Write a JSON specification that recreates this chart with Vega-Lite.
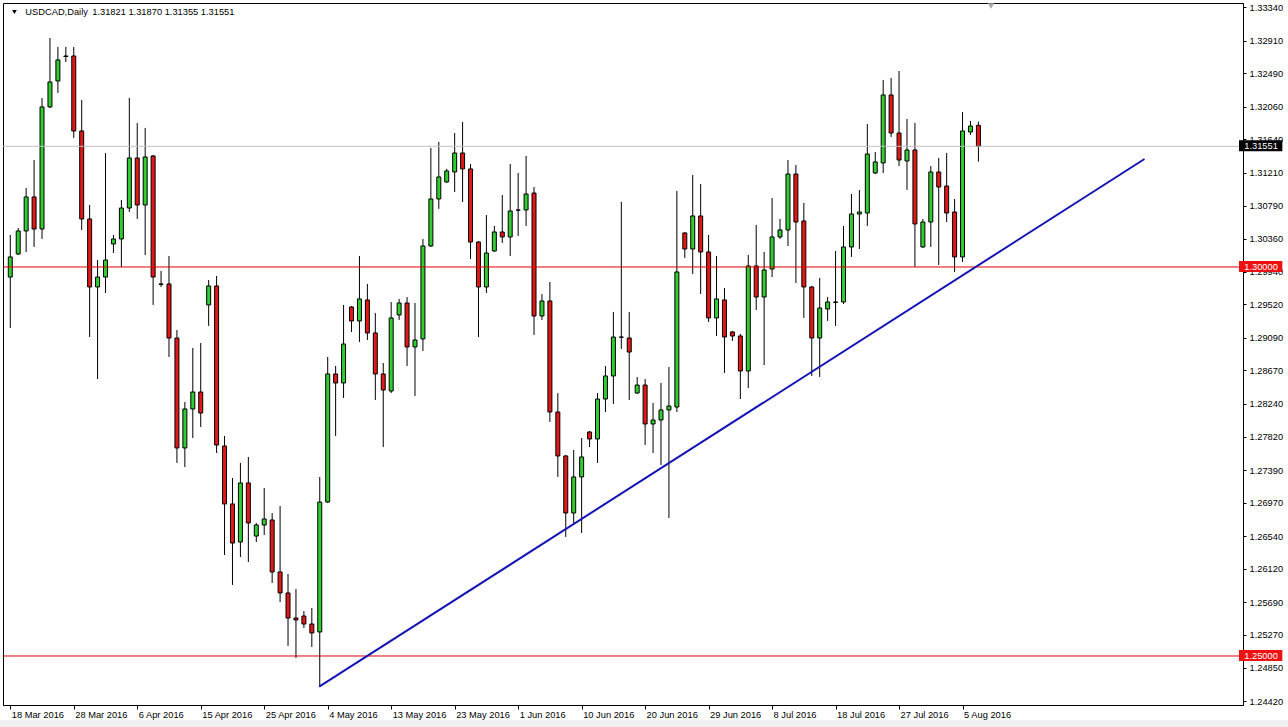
{
  "$schema": "https://vega.github.io/schema/vega-lite/v6.json",
  "width": 1240,
  "height": 702,
  "autosize": {"type": "none"},
  "padding": {"left": 3, "top": 3, "right": 45, "bottom": 22},
  "background": "white",
  "config": {
    "view": {"stroke": "#000000", "strokeWidth": 1},
    "font": "Liberation Sans",
    "axis": {"title": null, "grid": false, "labelFont": "Liberation Sans", "labelFontSize": 9.3, "labelColor": "#000000", "domainColor": "#000000", "tickColor": "#000000", "labelOverlap": false, "labelBound": false, "labelFlush": false}
  },
  "datasets": {
    "candles": [
      {"date": "2016-03-18", "open": 1.29871, "high": 1.30411, "low": 1.29216, "close": 1.30129},
      {"date": "2016-03-20", "open": 1.30167, "high": 1.30501, "low": 1.30154, "close": 1.30463},
      {"date": "2016-03-21", "open": 1.30463, "high": 1.31015, "low": 1.30193, "close": 1.30900},
      {"date": "2016-03-22", "open": 1.30900, "high": 1.31375, "low": 1.30257, "close": 1.30488},
      {"date": "2016-03-23", "open": 1.30488, "high": 1.32172, "low": 1.30360, "close": 1.32057},
      {"date": "2016-03-24", "open": 1.32057, "high": 1.32943, "low": 1.32044, "close": 1.32378},
      {"date": "2016-03-25", "open": 1.32391, "high": 1.32828, "low": 1.32237, "close": 1.32661},
      {"date": "2016-03-27", "open": 1.32712, "high": 1.32828, "low": 1.32635, "close": 1.32705},
      {"date": "2016-03-28", "open": 1.32712, "high": 1.32828, "low": 1.31658, "close": 1.31748},
      {"date": "2016-03-29", "open": 1.31748, "high": 1.32147, "low": 1.30476, "close": 1.30617},
      {"date": "2016-03-30", "open": 1.30617, "high": 1.30797, "low": 1.29100, "close": 1.29743},
      {"date": "2016-03-31", "open": 1.29743, "high": 1.30090, "low": 1.28560, "close": 1.29871},
      {"date": "2016-04-01", "open": 1.29871, "high": 1.31465, "low": 1.29666, "close": 1.30090},
      {"date": "2016-04-03", "open": 1.30296, "high": 1.30411, "low": 1.30180, "close": 1.30360},
      {"date": "2016-04-04", "open": 1.30360, "high": 1.30861, "low": 1.30000, "close": 1.30758},
      {"date": "2016-04-05", "open": 1.30758, "high": 1.32172, "low": 1.30707, "close": 1.31401},
      {"date": "2016-04-06", "open": 1.31401, "high": 1.31851, "low": 1.30617, "close": 1.30797},
      {"date": "2016-04-07", "open": 1.30797, "high": 1.31787, "low": 1.30154, "close": 1.31414},
      {"date": "2016-04-08", "open": 1.31427, "high": 1.31440, "low": 1.29512, "close": 1.29871},
      {"date": "2016-04-10", "open": 1.29782, "high": 1.29949, "low": 1.29743, "close": 1.29776},
      {"date": "2016-04-11", "open": 1.29782, "high": 1.30141, "low": 1.28843, "close": 1.29087},
      {"date": "2016-04-12", "open": 1.29087, "high": 1.29190, "low": 1.27481, "close": 1.27674},
      {"date": "2016-04-13", "open": 1.27674, "high": 1.28265, "low": 1.27429, "close": 1.28175},
      {"date": "2016-04-14", "open": 1.28175, "high": 1.28959, "low": 1.27802, "close": 1.28393},
      {"date": "2016-04-15", "open": 1.28393, "high": 1.29023, "low": 1.27943, "close": 1.28123},
      {"date": "2016-04-17", "open": 1.29512, "high": 1.29833, "low": 1.29242, "close": 1.29756},
      {"date": "2016-04-18", "open": 1.29756, "high": 1.29884, "low": 1.27609, "close": 1.27712},
      {"date": "2016-04-19", "open": 1.27699, "high": 1.27828, "low": 1.26298, "close": 1.26954},
      {"date": "2016-04-20", "open": 1.26954, "high": 1.27288, "low": 1.25913, "close": 1.26452},
      {"date": "2016-04-21", "open": 1.26465, "high": 1.27481, "low": 1.26272, "close": 1.27224},
      {"date": "2016-04-22", "open": 1.27224, "high": 1.27558, "low": 1.26208, "close": 1.26710},
      {"date": "2016-04-24", "open": 1.26542, "high": 1.26710, "low": 1.26465, "close": 1.26684},
      {"date": "2016-04-25", "open": 1.26684, "high": 1.27159, "low": 1.26555, "close": 1.26761},
      {"date": "2016-04-26", "open": 1.26748, "high": 1.26838, "low": 1.25938, "close": 1.26080},
      {"date": "2016-04-27", "open": 1.26080, "high": 1.26928, "low": 1.25694, "close": 1.25810},
      {"date": "2016-04-28", "open": 1.25810, "high": 1.26054, "low": 1.25129, "close": 1.25488},
      {"date": "2016-04-29", "open": 1.25488, "high": 1.25861, "low": 1.24974, "close": 1.25463},
      {"date": "2016-05-01", "open": 1.25514, "high": 1.25578, "low": 1.25360, "close": 1.25411},
      {"date": "2016-05-02", "open": 1.25411, "high": 1.25617, "low": 1.25116, "close": 1.25296},
      {"date": "2016-05-03", "open": 1.25309, "high": 1.27301, "low": 1.24602, "close": 1.26979},
      {"date": "2016-05-04", "open": 1.26979, "high": 1.28843, "low": 1.26967, "close": 1.28625},
      {"date": "2016-05-05", "open": 1.28625, "high": 1.28728, "low": 1.27828, "close": 1.28509},
      {"date": "2016-05-06", "open": 1.28509, "high": 1.29512, "low": 1.28316, "close": 1.29010},
      {"date": "2016-05-08", "open": 1.29486, "high": 1.29499, "low": 1.29165, "close": 1.29306},
      {"date": "2016-05-09", "open": 1.29306, "high": 1.30141, "low": 1.29036, "close": 1.29589},
      {"date": "2016-05-10", "open": 1.29576, "high": 1.29782, "low": 1.29062, "close": 1.29152},
      {"date": "2016-05-11", "open": 1.29152, "high": 1.29409, "low": 1.28290, "close": 1.28625},
      {"date": "2016-05-12", "open": 1.28625, "high": 1.28766, "low": 1.27686, "close": 1.28419},
      {"date": "2016-05-13", "open": 1.28406, "high": 1.29550, "low": 1.28380, "close": 1.29345},
      {"date": "2016-05-15", "open": 1.29383, "high": 1.29589, "low": 1.29319, "close": 1.29537},
      {"date": "2016-05-16", "open": 1.29537, "high": 1.29614, "low": 1.28728, "close": 1.28972},
      {"date": "2016-05-17", "open": 1.28972, "high": 1.29537, "low": 1.28342, "close": 1.29062},
      {"date": "2016-05-18", "open": 1.29075, "high": 1.30360, "low": 1.28920, "close": 1.30270},
      {"date": "2016-05-19", "open": 1.30270, "high": 1.31530, "low": 1.30257, "close": 1.30874},
      {"date": "2016-05-20", "open": 1.30874, "high": 1.31607, "low": 1.30746, "close": 1.31157},
      {"date": "2016-05-22", "open": 1.31093, "high": 1.31260, "low": 1.31080, "close": 1.31234},
      {"date": "2016-05-23", "open": 1.31221, "high": 1.31722, "low": 1.30964, "close": 1.31465},
      {"date": "2016-05-24", "open": 1.31465, "high": 1.31864, "low": 1.30835, "close": 1.31260},
      {"date": "2016-05-25", "open": 1.31260, "high": 1.31324, "low": 1.30103, "close": 1.30321},
      {"date": "2016-05-26", "open": 1.30321, "high": 1.30334, "low": 1.29100, "close": 1.29743},
      {"date": "2016-05-27", "open": 1.29743, "high": 1.30668, "low": 1.29666, "close": 1.30180},
      {"date": "2016-05-29", "open": 1.30206, "high": 1.30527, "low": 1.30193, "close": 1.30450},
      {"date": "2016-05-30", "open": 1.30450, "high": 1.30925, "low": 1.30309, "close": 1.30386},
      {"date": "2016-05-31", "open": 1.30386, "high": 1.31324, "low": 1.30141, "close": 1.30720},
      {"date": "2016-06-01", "open": 1.30733, "high": 1.31208, "low": 1.30399, "close": 1.30730},
      {"date": "2016-06-02", "open": 1.30733, "high": 1.31427, "low": 1.30527, "close": 1.30938},
      {"date": "2016-06-03", "open": 1.30951, "high": 1.31028, "low": 1.29126, "close": 1.29370},
      {"date": "2016-06-05", "open": 1.29370, "high": 1.29653, "low": 1.29319, "close": 1.29563},
      {"date": "2016-06-06", "open": 1.29563, "high": 1.29807, "low": 1.28008, "close": 1.28136},
      {"date": "2016-06-07", "open": 1.28136, "high": 1.28380, "low": 1.27301, "close": 1.27571},
      {"date": "2016-06-08", "open": 1.27571, "high": 1.27584, "low": 1.26530, "close": 1.26838},
      {"date": "2016-06-09", "open": 1.26838, "high": 1.27648, "low": 1.26710, "close": 1.27301},
      {"date": "2016-06-10", "open": 1.27301, "high": 1.27802, "low": 1.26581, "close": 1.27558},
      {"date": "2016-06-12", "open": 1.27879, "high": 1.27892, "low": 1.27686, "close": 1.27789},
      {"date": "2016-06-13", "open": 1.27789, "high": 1.28380, "low": 1.27481, "close": 1.28303},
      {"date": "2016-06-14", "open": 1.28303, "high": 1.28728, "low": 1.28136, "close": 1.28599},
      {"date": "2016-06-15", "open": 1.28599, "high": 1.29422, "low": 1.28239, "close": 1.29100},
      {"date": "2016-06-16", "open": 1.29100, "high": 1.30835, "low": 1.28946, "close": 1.29097},
      {"date": "2016-06-17", "open": 1.29087, "high": 1.29422, "low": 1.28290, "close": 1.28907},
      {"date": "2016-06-19", "open": 1.28380, "high": 1.28586, "low": 1.28368, "close": 1.28483},
      {"date": "2016-06-20", "open": 1.28483, "high": 1.28560, "low": 1.27712, "close": 1.27982},
      {"date": "2016-06-21", "open": 1.27982, "high": 1.28252, "low": 1.27609, "close": 1.28033},
      {"date": "2016-06-22", "open": 1.28033, "high": 1.28509, "low": 1.27455, "close": 1.28162},
      {"date": "2016-06-23", "open": 1.28162, "high": 1.28715, "low": 1.26774, "close": 1.28213},
      {"date": "2016-06-24", "open": 1.28200, "high": 1.30977, "low": 1.28136, "close": 1.29936},
      {"date": "2016-06-26", "open": 1.30437, "high": 1.30450, "low": 1.30116, "close": 1.30231},
      {"date": "2016-06-27", "open": 1.30231, "high": 1.31183, "low": 1.29910, "close": 1.30656},
      {"date": "2016-06-28", "open": 1.30656, "high": 1.31067, "low": 1.29653, "close": 1.30193},
      {"date": "2016-06-29", "open": 1.30193, "high": 1.30411, "low": 1.29293, "close": 1.29345},
      {"date": "2016-06-30", "open": 1.29345, "high": 1.30141, "low": 1.29113, "close": 1.29589},
      {"date": "2016-07-01", "open": 1.29576, "high": 1.29730, "low": 1.28638, "close": 1.29100},
      {"date": "2016-07-03", "open": 1.29165, "high": 1.29177, "low": 1.29049, "close": 1.29113},
      {"date": "2016-07-04", "open": 1.29113, "high": 1.29139, "low": 1.28303, "close": 1.28663},
      {"date": "2016-07-05", "open": 1.28663, "high": 1.30154, "low": 1.28445, "close": 1.30013},
      {"date": "2016-07-06", "open": 1.30013, "high": 1.30540, "low": 1.29447, "close": 1.29614},
      {"date": "2016-07-07", "open": 1.29614, "high": 1.30193, "low": 1.28740, "close": 1.29961},
      {"date": "2016-07-08", "open": 1.29974, "high": 1.30887, "low": 1.29871, "close": 1.30386},
      {"date": "2016-07-10", "open": 1.30386, "high": 1.30617, "low": 1.30360, "close": 1.30476},
      {"date": "2016-07-11", "open": 1.30476, "high": 1.31375, "low": 1.30270, "close": 1.31195},
      {"date": "2016-07-12", "open": 1.31195, "high": 1.31311, "low": 1.29794, "close": 1.30578},
      {"date": "2016-07-13", "open": 1.30591, "high": 1.30823, "low": 1.29345, "close": 1.29743},
      {"date": "2016-07-14", "open": 1.29743, "high": 1.29756, "low": 1.28599, "close": 1.29087},
      {"date": "2016-07-15", "open": 1.29087, "high": 1.29859, "low": 1.28586, "close": 1.29473},
      {"date": "2016-07-17", "open": 1.29460, "high": 1.29614, "low": 1.29306, "close": 1.29550},
      {"date": "2016-07-18", "open": 1.29550, "high": 1.30206, "low": 1.29242, "close": 1.29545},
      {"date": "2016-07-19", "open": 1.29550, "high": 1.30527, "low": 1.29524, "close": 1.30257},
      {"date": "2016-07-20", "open": 1.30257, "high": 1.30938, "low": 1.30129, "close": 1.30681},
      {"date": "2016-07-21", "open": 1.30681, "high": 1.30990, "low": 1.30231, "close": 1.30707},
      {"date": "2016-07-22", "open": 1.30694, "high": 1.31838, "low": 1.30527, "close": 1.31452},
      {"date": "2016-07-24", "open": 1.31208, "high": 1.31478, "low": 1.31195, "close": 1.31350},
      {"date": "2016-07-25", "open": 1.31337, "high": 1.32404, "low": 1.31208, "close": 1.32211},
      {"date": "2016-07-26", "open": 1.32211, "high": 1.32429, "low": 1.31671, "close": 1.31722},
      {"date": "2016-07-27", "open": 1.31722, "high": 1.32519, "low": 1.31298, "close": 1.31375},
      {"date": "2016-07-28", "open": 1.31362, "high": 1.31902, "low": 1.30990, "close": 1.31504},
      {"date": "2016-07-29", "open": 1.31504, "high": 1.31851, "low": 1.30000, "close": 1.30553},
      {"date": "2016-07-31", "open": 1.30257, "high": 1.30617, "low": 1.30244, "close": 1.30578},
      {"date": "2016-08-01", "open": 1.30578, "high": 1.31298, "low": 1.30257, "close": 1.31221},
      {"date": "2016-08-02", "open": 1.31221, "high": 1.31401, "low": 1.30026, "close": 1.31028},
      {"date": "2016-08-03", "open": 1.31041, "high": 1.31465, "low": 1.30578, "close": 1.30694},
      {"date": "2016-08-04", "open": 1.30707, "high": 1.30874, "low": 1.29936, "close": 1.30129},
      {"date": "2016-08-05", "open": 1.30129, "high": 1.31992, "low": 1.30064, "close": 1.31748},
      {"date": "2016-08-07", "open": 1.31735, "high": 1.31877, "low": 1.31697, "close": 1.31812},
      {"date": "2016-08-08", "open": 1.31821, "high": 1.31870, "low": 1.31355, "close": 1.31551}
    ],
    "levels": [
      {"price": 1.31551, "label": "1.31551", "kind": "bid"},
      {"price": 1.30000, "label": "1.30000", "kind": "level"},
      {"price": 1.25000, "label": "1.25000", "kind": "level"}
    ],
    "trend": [
      {"n": 39.93, "price": 1.24605},
      {"n": 143.93, "price": 1.31388}
    ],
    "header": [
      {"symbol": "USDCAD,Daily", "quote": "1.31821 1.31870 1.31355 1.31551"}
    ]
  },
  "layer": [
    {
      "data": {"name": "candles"},
      "transform": [{"window": [{"op": "row_number", "as": "n"}]}],
      "mark": {"type": "rule", "color": "#000000", "strokeWidth": 1},
      "encoding": {
        "x": {
          "field": "n", "type": "quantitative", "title": null,
          "scale": {"domain": [0.7125, 155.7125], "nice": false, "zero": false},
          "axis": {
            "values": [1, 9, 17, 25, 33, 41, 49, 57, 65, 73, 81, 89, 97, 105, 113, 121],
            "tickCount": 40,
            "labelExpr": "['18 Mar 2016','28 Mar 2016','6 Apr 2016','15 Apr 2016','25 Apr 2016','4 May 2016','13 May 2016','23 May 2016','1 Jun 2016','10 Jun 2016','20 Jun 2016','29 Jun 2016','8 Jul 2016','18 Jul 2016','27 Jul 2016','5 Aug 2016'][round((datum.value-1)/8)]",
            "title": null, "grid": false, "domain": true, "domainColor": "#000000",
            "ticks": true, "tickColor": "#000000", "tickSize": 4,
            "labelAlign": "left", "labelBaseline": "top", "labelPadding": 1, "labelOffset": 1,
            "labelFontSize": 9.3, "labelFont": "Liberation Sans", "labelColor": "#000000",
            "labelOverlap": false, "labelFlush": false, "labelBound": false
          }
        },
        "y": {
          "field": "low", "type": "quantitative", "title": null,
          "scale": {"domain": [1.2437, 1.33393], "nice": false, "zero": false},
          "axis": {
            "orient": "right",
            "values": [1.3334, 1.3291, 1.3249, 1.3206, 1.3164, 1.3121, 1.3079, 1.3036, 1.2994, 1.2952, 1.2909, 1.2867, 1.2824, 1.2782, 1.2739, 1.2697, 1.2654, 1.2612, 1.2569, 1.2527, 1.2485, 1.2442],
            "tickCount": 40,
            "format": ".5f", "title": null, "grid": false, "domainColor": "#000000",
            "tickColor": "#000000", "tickSize": 3, "labelPadding": 3,
            "labelFontSize": 9.3, "labelFont": "Liberation Sans", "labelColor": "#000000",
            "labelBaseline": "middle", "labelOverlap": false, "labelBound": false, "labelFlush": false
          }
        },
        "y2": {"field": "high"}
      }
    },
    {
      "data": {"name": "candles"},
      "transform": [{"window": [{"op": "row_number", "as": "n"}]}],
      "mark": {"type": "bar", "width": 4, "stroke": "#000000", "strokeWidth": 1},
      "encoding": {
        "x": {"field": "n", "type": "quantitative", "title": null, "scale": {"domain": [0.7125, 155.7125], "nice": false, "zero": false}},
        "y": {"field": "open", "type": "quantitative", "title": null, "scale": {"domain": [1.2437, 1.33393], "nice": false, "zero": false}},
        "y2": {"field": "close"},
        "fill": {"condition": {"test": "datum.close >= datum.open", "value": "#30cc30"}, "value": "#e01818"}
      }
    },
    {
      "data": {"name": "levels"},
      "mark": {"type": "rule", "strokeWidth": 1},
      "encoding": {
        "y": {"field": "price", "type": "quantitative", "title": null, "scale": {"domain": [1.2437, 1.33393], "nice": false, "zero": false}},
        "color": {"condition": {"test": "datum.kind === 'bid'", "value": "#c0c0c0"}, "value": "#e00000"}
      }
    },
    {
      "data": {"name": "trend"},
      "mark": {"type": "line", "color": "#1414b4", "strokeWidth": 2},
      "encoding": {
        "x": {"field": "n", "type": "quantitative", "title": null, "scale": {"domain": [0.7125, 155.7125], "nice": false, "zero": false}},
        "y": {"field": "price", "type": "quantitative", "title": null, "scale": {"domain": [1.2437, 1.33393], "nice": false, "zero": false}}
      }
    },
    {
      "data": {"name": "levels"},
      "mark": {"type": "rect", "yOffset": -6, "y2Offset": 5, "clip": false},
      "encoding": {
        "x": {"datum": 155.84, "type": "quantitative", "title": null, "scale": {"domain": [0.7125, 155.7125], "nice": false, "zero": false}},
        "x2": {"datum": 161.3},
        "y": {"field": "price", "type": "quantitative", "title": null, "scale": {"domain": [1.2437, 1.33393], "nice": false, "zero": false}},
        "y2": {"field": "price"},
        "fill": {"condition": {"test": "datum.kind === 'bid'", "value": "#000000"}, "value": "#ee1111"}
      }
    },
    {
      "data": {"name": "levels"},
      "mark": {"type": "text", "align": "left", "baseline": "middle", "fontSize": 9.3, "font": "Liberation Sans", "color": "#ffffff", "clip": false},
      "encoding": {
        "x": {"datum": 156.5, "type": "quantitative", "title": null, "scale": {"domain": [0.7125, 155.7125], "nice": false, "zero": false}},
        "y": {"field": "price", "type": "quantitative", "title": null, "scale": {"domain": [1.2437, 1.33393], "nice": false, "zero": false}},
        "text": {"field": "label"}
      }
    },
    {
      "data": {"name": "header"},
      "mark": {"type": "point", "shape": "triangle-down", "filled": true, "size": 22, "color": "#000000", "opacity": 1},
      "encoding": {
        "x": {"datum": 1.525, "type": "quantitative", "title": null, "scale": {"domain": [0.7125, 155.7125], "nice": false, "zero": false}},
        "y": {"datum": 1.33278, "type": "quantitative", "title": null, "scale": {"domain": [1.2437, 1.33393], "nice": false, "zero": false}}
      }
    },
    {
      "data": {"name": "header"},
      "mark": {"type": "text", "align": "left", "baseline": "middle", "fontSize": 9.3, "font": "Liberation Sans", "color": "#000000"},
      "encoding": {
        "x": {"datum": 2.9, "type": "quantitative", "title": null, "scale": {"domain": [0.7125, 155.7125], "nice": false, "zero": false}},
        "y": {"datum": 1.33278, "type": "quantitative", "title": null, "scale": {"domain": [1.2437, 1.33393], "nice": false, "zero": false}},
        "text": {"field": "symbol"}
      }
    },
    {
      "data": {"name": "header"},
      "mark": {"type": "text", "align": "left", "baseline": "middle", "fontSize": 9.3, "font": "Liberation Sans", "color": "#000000"},
      "encoding": {
        "x": {"datum": 11.33, "type": "quantitative", "title": null, "scale": {"domain": [0.7125, 155.7125], "nice": false, "zero": false}},
        "y": {"datum": 1.33278, "type": "quantitative", "title": null, "scale": {"domain": [1.2437, 1.33393], "nice": false, "zero": false}},
        "text": {"field": "quote"}
      }
    },
    {
      "data": {"name": "header"},
      "mark": {"type": "point", "shape": "triangle-down", "filled": true, "size": 40, "color": "#a8a8a8", "opacity": 1},
      "encoding": {
        "x": {"datum": 124.59, "type": "quantitative", "title": null, "scale": {"domain": [0.7125, 155.7125], "nice": false, "zero": false}},
        "y": {"datum": 1.33355, "type": "quantitative", "title": null, "scale": {"domain": [1.2437, 1.33393], "nice": false, "zero": false}}
      }
    },
    {
      "data": {"name": "header"},
      "mark": {"type": "rect", "fill": "#f0f0f0", "clip": false},
      "encoding": {
        "x": {"datum": -5, "type": "quantitative", "title": null, "scale": {"domain": [0.7125, 155.7125], "nice": false, "zero": false}},
        "x2": {"datum": 170},
        "y": {"datum": 1.24177, "type": "quantitative", "title": null, "scale": {"domain": [1.2437, 1.33393], "nice": false, "zero": false}},
        "y2": {"datum": 1.2385}
      }
    }
  ]
}
